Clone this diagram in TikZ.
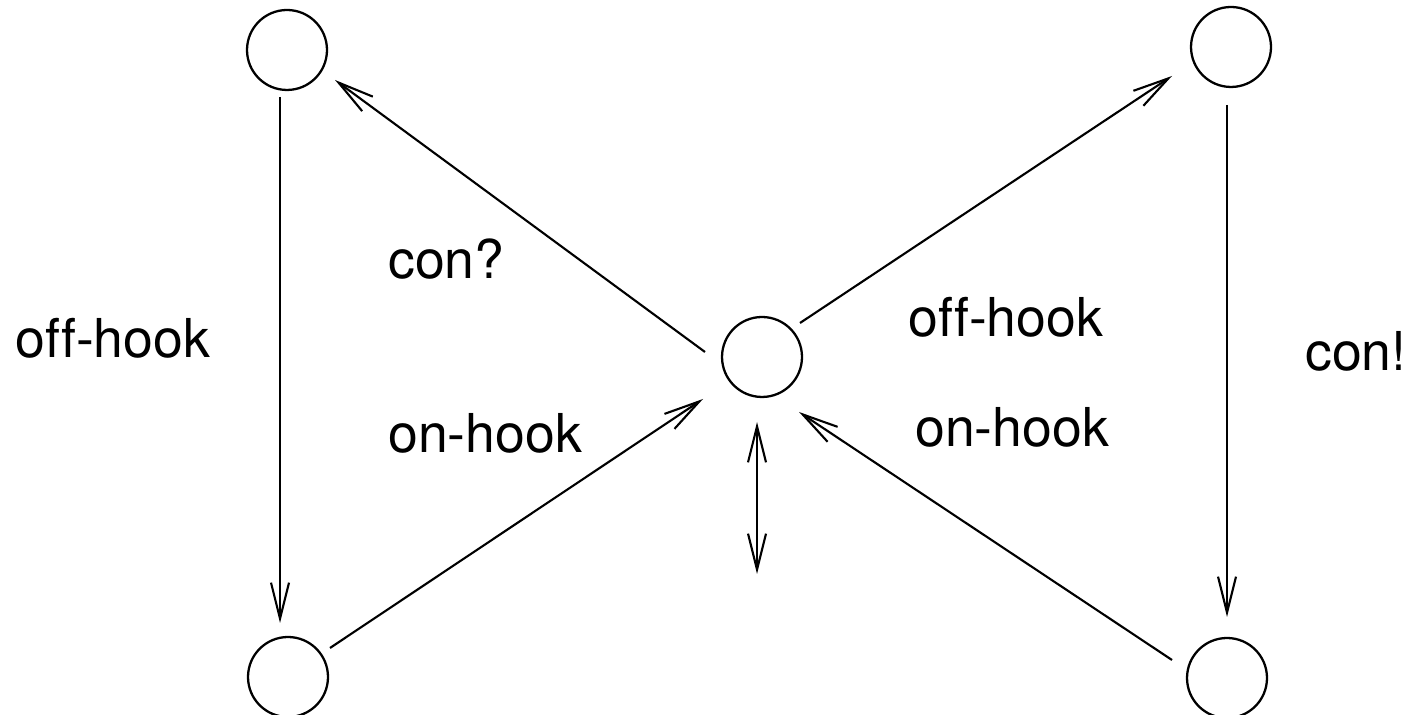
\documentclass[tikz,border=0pt]{standalone}
\usepackage{fontspec}
\setmainfont[Ligatures={NoCommon}]{TeX Gyre Heros}
\usetikzlibrary{arrows.meta}

\tikzset{
  state/.style={circle, draw, line width=1.3pt, minimum size=1.6cm, inner sep=0pt},
  barb/.tip={Straight Barb[length=0.72cm, width=0.36cm, line width=1.2pt]},
  trans/.style={line width=1.2pt, -barb},
  lbl/.style={anchor=base west, inner sep=0pt, font=\fontsize{30.5}{36}\selectfont},
}

\begin{document}
\begin{tikzpicture}[x=0.02cm, y=0.02cm]
	\useasboundingbox (0,0) rectangle (1412,715);
	% states
	\node[state] (idle) at (762,358) {};
	\node[state] (caller) at (287,665) {};
	\node[state] (callerwait) at (288,38) {};
	\node[state] (callee) at (1231,668) {};
	\node[state] (calleetalk) at (1227,37) {};
	% transitions
	\draw[trans] ([shift={(-7,-47)}]caller.center) -- ([shift={(-8,54)}]callerwait.center);
	\draw[trans] ([shift={(-4,-58)}]callee.center) -- ([shift={(0,61)}]calleetalk.center);
	\draw[trans] ([shift={(-57,5)}]idle.center) -- ([shift={(48,-30)}]caller.center);
	\draw[trans] ([shift={(38,34)}]idle.center) -- ([shift={(-59,-29)}]callee.center);
	\draw[trans] ([shift={(42,29)}]callerwait.center) -- ([shift={(-59,-42)}]idle.center);
	\draw[trans] ([shift={(-55,18)}]calleetalk.center) -- ([shift={(37,-55)}]idle.center);
	\coordinate (loopA) at ([shift={(-5,-65)}]idle.center);
	\coordinate (loopB) at ([shift={(-5,-217)}]idle.center);
	\draw[trans, barb-barb] (loopB) -- (loopA);
	% labels
	\node[lbl] (lofflft) at (15,357) {off-hook};
	\node[lbl] (lconq) at (388,436) {con?};
	\node[lbl] (lonlft) at (388,262) {on-hook};
	\node[lbl] (loffrgt) at (908,378) {off-hook};
	\node[lbl] (lonrgt) at (915,268) {on-hook};
	\node[lbl] (lconx) at (1305,344) {con!};
\end{tikzpicture}
\end{document}
